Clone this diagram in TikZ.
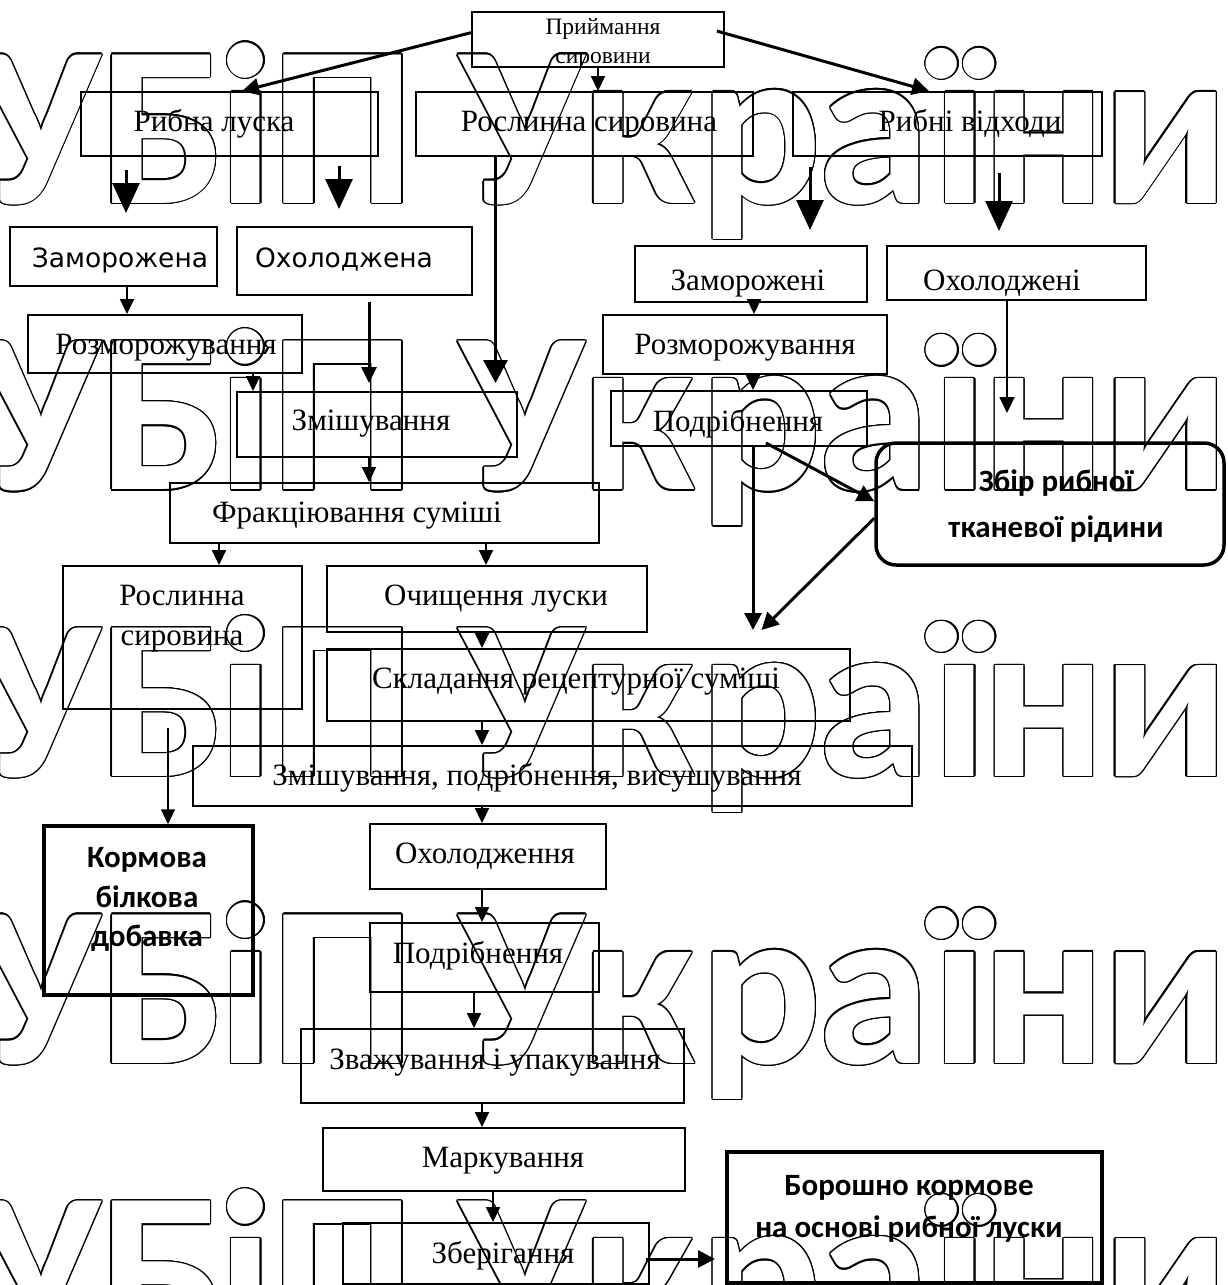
\documentclass[tikz,border=0pt]{standalone}
\usepackage{fontspec}
\setmainfont{Liberation Serif}
\newfontfamily\dvsans{DejaVu Sans}
\newfontfamily\calb{Carlito}
\usetikzlibrary{arrows.meta,calc}
\tikzset{
 bx/.style={draw, line width=1.9pt, inner sep=0pt},
 bxk/.style={draw, line width=3.5pt, inner sep=0pt},
 bxr/.style={draw, line width=3.5pt, inner sep=0pt, rounded corners=20pt},
 tx/.style={inner sep=0pt, font=\fontsize{31}{40}\selectfont},
 txp/.style={inner sep=0pt, font=\fontsize{23.5}{29}\selectfont},
 txs/.style={inner sep=0pt, font=\dvsans\fontsize{26.5}{32}\selectfont},
 txb/.style={inner sep=0pt, font=\calb\bfseries\fontsize{31}{40}\selectfont},
 wmk/.style={inner sep=0pt, anchor=base, font=\calb\bfseries\fontsize{229}{229}\selectfont},
 thinarr/.style={line width=1.7pt, -{Triangle[length=15pt,width=14pt]}},
 thickarr/.style={line width=3pt, -{Triangle[length=17pt,width=17pt]}},
 bigarr/.style={line width=3pt, -{Triangle[length=30pt,width=27pt]}},
 medarr/.style={line width=3pt, -{Triangle[length=16pt,width=15pt]}},
 rsarr/.style={line width=3pt, -{Triangle[length=23pt,width=24pt]}},
}
\newcommand\bx[6]{\node[#6, minimum width={#4-#2}, minimum height={#5-#3}] (#1) at ({(#2+#4)/2},{(#3+#5)/2}) {};}
\newcommand\tl[5]{\node[#4, anchor=base] (#1) at (#2,#3) {#5};}
\begin{document}
\begin{tikzpicture}[x=1pt,y=-1pt]
\useasboundingbox (0,0) rectangle (1227,1285);
\fill[white] (0,0) rectangle (1227,1285);
% watermark (outlined letters)
\begin{scope}
\clip (0,0) rectangle (1227,1285);
\foreach \r/\b in {1/203,2/489.7,3/776.4,4/1063,5/1349.7}{
  \foreach \ch/\cx [count=\j] in {У/38,Б/163,і/246,П/343,У/522,к/638,р/761,а/874,ї/960,н/1044,и/1166}{
    \foreach \a [count=\i] in {0,22.5,...,337.5}{
      \node[wmk,text=black] (w\r-\j-\i) at ($(\cx,\b)+(\a:1.4)$) {\ch};
    }
    \node[wmk,text=white] (w\r-\j) at (\cx,\b) {\ch};
  }
}
\end{scope}
% boxes
\bx{pr}{472}{12}{724}{67}{bx}
\bx{rl}{81}{92}{378}{156}{bx}
\bx{rs}{416}{92}{753}{156}{bx}
\bx{rv}{793}{92}{1102}{156}{bx}
\bx{zam}{10}{227}{217}{286}{bx}
\bx{oh}{237}{227}{472}{295}{bx}
\bx{zm2}{635}{246}{867}{302}{bx}
\bx{oh2}{887}{246}{1146}{300}{bx}
\bx{roz1}{28}{315}{302}{373}{bx}
\bx{roz2}{603}{315}{887}{374}{bx}
\bx{zmish}{237}{392}{517}{457}{bx}
\bx{pod1}{611}{391}{867}{446}{bx}
\bx{zbir}{876}{443}{1224}{565}{bxr}
\bx{frak}{170}{483}{599}{543}{bx}
\bx{ros2}{63}{566}{302}{709}{bx}
\bx{och}{327}{566}{647}{632}{bx}
\bx{skl}{327}{649}{850}{721}{bx}
\bx{zps}{193}{746}{912}{806}{bx}
\bx{korm}{44}{826}{253}{995}{bxk}
\bx{ohl}{370}{824}{606}{889}{bx}
\bx{pod2}{370}{923}{599}{992}{bx}
\bx{zv}{301}{1029}{684}{1103}{bx}
\bx{mark}{323}{1128}{685}{1191}{bx}
\bx{zber}{343}{1223}{649}{1284}{bx}
\bx{bor}{727}{1152}{1102}{1283}{bxk}
% texts
\tl{prt1}{603}{34}{txp}{Приймання}
\tl{prt2}{603}{63}{txp}{сировини}
\tl{rlt}{214}{131}{tx}{Рибна луска}
\tl{rst}{589}{131}{tx}{Рослинна сировина}
\tl{rvt}{970}{131}{tx}{Рибні відходи}
\tl{zamt}{120}{267}{txs}{Заморожена}
\tl{oht}{344}{267}{txs}{Охолоджена}
\tl{zm2t}{748}{290}{tx}{Заморожені}
\tl{oh2t}{1002}{290}{tx}{Охолоджені}
\tl{roz1t}{166}{354}{tx}{Розморожування}
\tl{roz2t}{745}{354}{tx}{Розморожування}
\tl{zmisht}{371}{430}{tx}{Змішування}
\tl{pod1t}{738}{431}{tx}{Подрібнення}
\tl{zbirt1}{1056}{491}{txb}{Збір рибної}
\tl{zbirt2}{1056}{537}{txb}{тканевої рідини}
\tl{frakt}{357}{522}{tx}{Фракціювання суміші}
\tl{ros2t1}{182}{605}{tx}{Рослинна}
\tl{ros2t2}{182}{645}{tx}{сировина}
\tl{ocht}{496}{605}{tx}{Очищення луски}
\tl{sklt}{576}{688}{tx}{Складання рецептурної суміші}
\tl{zpst}{537}{785}{tx}{Змішування, подрібнення, висушування}
\tl{kormt1}{147}{867}{txb}{Кормова}
\tl{kormt2}{147}{907}{txb}{білкова}
\tl{kormt3}{147}{946}{txb}{добавка}
\tl{ohlt}{485}{863}{tx}{Охолодження}
\tl{pod2t}{478}{963}{tx}{Подрібнення}
\tl{zvt}{495}{1069}{tx}{Зважування і упакування}
\tl{markt}{503}{1167}{tx}{Маркування}
\tl{zbert}{503}{1263}{tx}{Зберігання}
\tl{bort1}{909}{1195}{txb}{Борошно кормове}
\tl{bort2}{909}{1237}{txb}{на основі рибної луски}
% connectors
\draw[thickarr] ($(pr.north west)!0.38!(pr.south west)$) -- ($(rl.north west)+(162,0)$);
\draw[thickarr] ($(pr.north east)+(-8,20)$) -- ($(rv.north west)+(137,0)$);
\draw[thinarr] (pr.south) -- (pr.south |- rs.north);
\coordinate (a1s) at (126,170); \coordinate (a1e) at (126,213);
\coordinate (a2s) at (339,166); \coordinate (a2e) at (339,209);
\coordinate (a3s) at (810,167); \coordinate (a3e) at (810,230);
\coordinate (a4s) at (999,173); \coordinate (a4e) at (999,231);
\draw[bigarr] (a1s) -- (a1e);
\draw[bigarr] (a2s) -- (a2e);
\draw[bigarr] (a3s) -- (a3e);
\draw[bigarr] (a4s) -- (a4e);
\coordinate (k1) at (127,286); \draw[thinarr] (k1) -- (k1 |- roz1.north);
\coordinate (k2) at (369,302); \coordinate (k2e) at (369,383); \draw[medarr] (k2) -- (k2e);
\coordinate (k3) at (495.5,156); \coordinate (k3e) at (495.5,383); \draw[rsarr] (k3) -- (k3e);
\coordinate (k4) at (253,373); \draw[thinarr] (k4) -- (k4 |- zmish.north);
\coordinate (k5) at (369,457); \draw[thinarr] (k5) -- (k5 |- frak.north);
\coordinate (k6) at (219,543); \draw[thinarr] (k6) -- (k6 |- ros2.north);
\coordinate (k7) at (486,543); \draw[thinarr] (k7) -- (k7 |- och.north);
\coordinate (k8) at (754,302); \draw[thinarr] (k8) -- (k8 |- roz2.north);
\coordinate (k9) at (1007,300); \coordinate (k9e) at (1007,413); \draw[medarr,line width=1.8pt] (k9) -- (k9e);
\coordinate (k10) at (753,374); \draw[thinarr] (k10) -- (k10 |- pod1.north);
\coordinate (k11) at (753,446); \coordinate (k11e) at (753,630); \draw[thickarr] (k11) -- (k11e);
\coordinate (k12) at (766,443); \draw[thickarr] (k12) -- ($(zbir.north west)+(0,60)$);
\coordinate (k13e) at (761.5,630); \draw[thickarr] ($(zbir.north west)+(0,77)$) -- (k13e);
\coordinate (k14) at (482,632); \draw[thinarr] (k14) -- (k14 |- skl.north);
\coordinate (k15) at (482,721); \draw[thinarr] (k15) -- (k15 |- zps.north);
\coordinate (k16) at (168,728); \draw[thinarr] (k16) -- (k16 |- korm.north);
\coordinate (k17) at (482,806); \draw[thinarr] (k17) -- (k17 |- ohl.north);
\coordinate (k18) at (482,889); \draw[thinarr] (k18) -- (k18 |- pod2.north);
\coordinate (k19) at (474,992); \draw[thinarr] (k19) -- (k19 |- zv.north);
\coordinate (k20) at (482,1103); \draw[thinarr] (k20) -- (k20 |- mark.north);
\coordinate (k21) at (493,1191); \draw[thinarr] (k21) -- (k21 |- zber.north);
\coordinate (k22) at (646,1259); \coordinate (k22e) at (715,1259); \draw[thickarr] (k22) -- (k22e);
\end{tikzpicture}
\end{document}
